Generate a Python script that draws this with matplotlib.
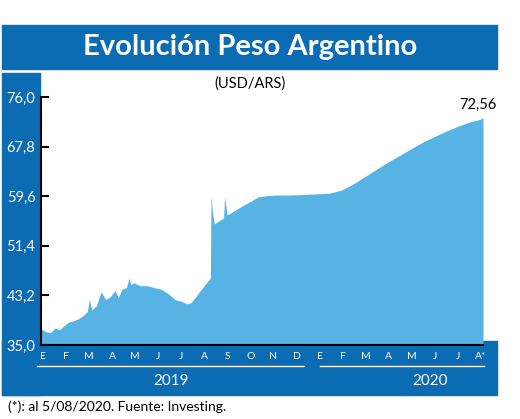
import matplotlib
matplotlib.use("Agg")
import matplotlib.pyplot as plt
from matplotlib.patches import Rectangle

months = [0,0.2,0.4,0.6,0.8,1.0,1.2,1.4,1.6,1.8,2.0,2.1,2.2,2.4,2.6,2.8,3.0,3.2,3.35,3.5,3.7,3.8,3.9,4.0,4.3,4.6,4.9,5.2,5.5,5.8,6.1,6.3,6.5,6.7,6.9,7.2,7.33,7.36,7.42,7.5,7.7,7.9,7.95,8.05,8.2,8.5,8.8,9.1,9.4,9.8,10.2,10.8,11.5,12.0,12.5,13.0,13.5,14.0,14.5,15.0,15.5,16.0,16.5,17.0,17.5,18.0,18.5,19.0,19.13]
values = [37.7,37.2,37.0,37.8,37.5,38.2,38.8,39.0,39.3,39.8,40.5,42.5,40.8,41.5,43.8,42.5,43.0,44.0,42.8,44.2,44.5,46.0,45.0,45.3,44.8,44.8,44.5,44.2,43.5,42.5,42.2,41.8,42.0,43.0,44.0,45.5,46.0,59.5,57.0,55.0,55.5,56.0,59.5,56.5,56.8,57.5,58.2,58.8,59.5,59.7,59.8,59.8,59.9,60.0,60.1,60.6,61.6,62.8,64.0,65.2,66.3,67.4,68.5,69.4,70.3,71.1,71.8,72.3,72.56]
month_labels = ["E","F","M","A","M","J","J","A","S","O","N","D","E","F","M","A","M","J","J","A*"]
yticks = [35.0,43.2,51.4,59.6,67.8,76.0]

BLUE = "#0b6cb3"
FILL = "#56b3e3"
plt.rcParams['font.family'] = ['Lato', 'DejaVu Sans']

W, H = 520, 419
fig = plt.figure(figsize=(W/100, H/100), dpi=100)

def fx(px): return px / W
def fy(py): return 1 - py / H

# title bar
fig.patches.append(Rectangle((fx(2), fy(69)), fx(495), 44/H, transform=fig.transFigure, color=BLUE, zorder=0))
fig.text(fx(250), fy(47), "Evolución Peso Argentino", color="white", fontsize=21, fontweight="bold", ha="center", va="center")
# left column
fig.patches.append(Rectangle((fx(2), fy(395)), fx(38), 322/H, transform=fig.transFigure, color=BLUE, zorder=0))
# bottom band
fig.patches.append(Rectangle((fx(2), fy(395)), fx(495), 54/H, transform=fig.transFigure, color=BLUE, zorder=0))

ax = fig.add_axes([fx(41), fy(345), fx(442), (345-97)/H])
ax.set_zorder(2)
ax.fill_between(months, values, 35, color=FILL, lw=0)
ax.set_xlim(0, 19.13)
ax.set_ylim(35, 76)
ax.patch.set_alpha(1)
for s in ["top", "right"]:
    ax.spines[s].set_visible(False)
for s in ["left", "bottom"]:
    ax.spines[s].set_linewidth(1.5)
ax.set_xticks([])
ax.set_yticks(yticks)
ax.set_yticklabels([f"{v:.1f}".replace(".", ",") for v in yticks], color="white", fontsize=10.5)
ax.tick_params(axis="y", direction="in", length=6, width=1.5, pad=4)
ax.text(18.9, 72.56 + 1.0, "72,56", ha="center", va="bottom", fontsize=10.5)
fig.text(fx(250), fy(84), "(USD/ARS)", ha="center", va="center", fontsize=10.5)

# month labels
for i, lab in enumerate(month_labels):
    x = fx(41 + 23.05 * i + 2)
    fig.text(x, fy(356), lab, color="white", fontsize=7.5, ha="center", va="center")
# year underlines
fig.add_artist(plt.Line2D([fx(37), fx(304)], [fy(366), fy(366)], color="white", lw=1))
fig.add_artist(plt.Line2D([fx(320), fx(484)], [fy(366), fy(366)], color="white", lw=1))
fig.text(fx(171), fy(381), "2019", color="white", fontsize=11, ha="center", va="center")
fig.text(fx(430), fy(381), "2020", color="white", fontsize=11, ha="center", va="center")
fig.text(fx(8), fy(407), "(*): al 5/08/2020. Fuente: Investing.", fontsize=10, ha="left", va="center")

fig.savefig("out.png", dpi=100)
